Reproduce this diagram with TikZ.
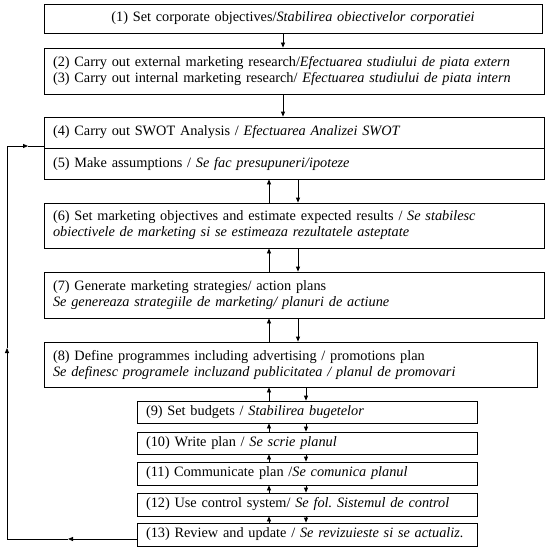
\documentclass[tikz,border=0pt]{standalone}
\usepackage{fontspec}
\setmainfont{Liberation Serif}
\usetikzlibrary{arrows.meta}
\begin{document}
\frenchspacing
\begin{tikzpicture}[x=1pt,y=-1pt,
  box/.style={draw, line width=0.8pt, inner xsep=9pt, inner ysep=0pt, align=left,
    font=\fontsize{14.3}{16}\selectfont, anchor=center},
  link/.style={line width=0.8pt},
  tip/.style={link,-{Triangle[length=5pt,width=4pt]}}]
\useasboundingbox (0,0) rectangle (550,551);
\node[box, align=center, text width=480pt, minimum height=29pt] (b1) at (293,18.5)
  {(1) Set corporate objectives/\textit{Stabilirea obiectivelor corporatiei}};
\node[box, text width=482pt, minimum height=46pt] (b2) at (294,71)
  {(2) Carry out external marketing research/\textit{Efectuarea studiului de piata extern}\\
   (3) Carry out internal marketing research/ \textit{Efectuarea studiului de piata intern}};
\node[box, text width=482pt, minimum height=31pt] (b4) at (294,132.5)
  {(4) Carry out SWOT Analysis / \textit{Efectuarea Analizei SWOT}};
\node[box, text width=482pt, minimum height=31pt] (b5) at (294,163.5)
  {(5) Make assumptions / \textit{Se fac presupuneri/ipoteze}};
\node[box, text width=482pt, minimum height=45pt] (b6) at (294,225.5)
  {(6) Set marketing objectives and estimate expected results / \textit{Se stabilesc}\\
   \textit{obiectivele de marketing si se estimeaza rezultatele asteptate}};
\node[box, text width=482pt, minimum height=46pt] (b7) at (294,295)
  {(7) Generate marketing strategies/ action plans\\
   \textit{Se genereaza strategiile de marketing/ planuri de actiune}};
\node[box, text width=475pt, minimum height=45pt] (b8) at (290.5,364.5)
  {(8) Define programmes including advertising / promotions plan\\
   \textit{Se definesc programele incluzand publicitatea / planul de promovari}};
\node[box, text width=322pt, minimum height=22pt] (b9) at (307,412)
  {(9) Set budgets / \textit{Stabilirea bugetelor}};
\node[box, text width=322pt, minimum height=22pt] (b10) at (307,443)
  {(10) Write plan / \textit{Se scrie planul}};
\node[box, text width=322pt, minimum height=23pt] (b11) at (307,473.5)
  {(11) Communicate plan /\textit{Se comunica planul}};
\node[box, text width=322pt, minimum height=23pt] (b12) at (307,504.5)
  {(12) Use control system/ \textit{Se fol. Sistemul de control}};
\node[box, text width=322pt, minimum height=23pt] (b13) at (307,534.5)
  {(13) Review and update / \textit{Se revizuieste si se actualiz.}};
\coordinate (xa) at (283,0);
\coordinate (xu) at (269,0);
\coordinate (xd) at (298,0);
\coordinate (xe) at (306,0);
\draw[tip] (b1.south -| xa) -- (b2.north -| xa);
\draw[tip] (b2.south -| xa) -- (b4.north -| xa);
\foreach \a/\b/\x in {b5/b6/xd, b6/b7/xd, b7/b8/xd, b8/b9/xe, b9/b10/xe, b10/b11/xe, b11/b12/xe, b12/b13/xe}{
  \draw[tip] (\b.north -| xu) -- (\a.south -| xu);
  \draw[tip] (\a.south -| \x) -- (\b.north -| \x);
}
\coordinate (r0) at (b13.west |- 0,539);
\coordinate (m1) at (68,539);
\coordinate (r1) at (7,539);
\coordinate (m2) at (7,348);
\coordinate (r2) at (7,146);
\coordinate (m3) at (28,146);
\coordinate (r3) at (b4.west |- 0,146);
\draw[tip] (r0) -- (m1);
\draw[tip] (m1) -- (r1) -- (m2);
\draw[tip] (m2) -- (r2) -- (m3);
\draw[link] (m3) -- (r3);
\end{tikzpicture}
\end{document}
